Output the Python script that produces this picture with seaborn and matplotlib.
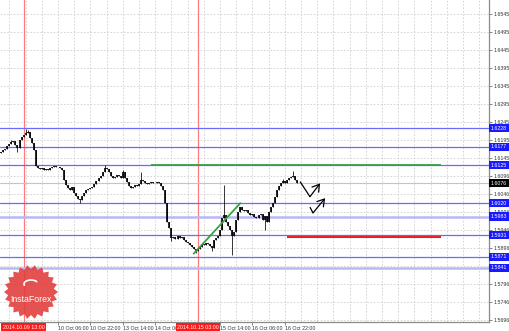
import numpy as np
import pandas as pd
import matplotlib
matplotlib.use("Agg")
import matplotlib.pyplot as plt
import seaborn as sns
from matplotlib.patches import Polygon
from matplotlib.transforms import blended_transform_factory

# ---------------- data (H1 bars, index 0 = 2014.10.09 02:00) ----------------
open0 = 1.6158
close = [
    1.6162, 1.6168, 1.6170, 1.6178, 1.6184, 1.6190, 1.6192, 1.6181, 1.6173, 1.6195,
    1.6204, 1.6209, 1.6215, 1.6218, 1.6201, 1.6187, 1.6168, 1.6123, 1.6118, 1.6115,
    1.6118, 1.6112, 1.6115, 1.6112, 1.6118, 1.6120, 1.6123, 1.6120, 1.6120, 1.6118,
    1.6112, 1.6084, 1.6070, 1.6062, 1.6057, 1.6065, 1.6048, 1.6040, 1.6032, 1.6029,
    1.6040, 1.6048, 1.6057, 1.6059, 1.6062, 1.6065, 1.6073, 1.6081, 1.6090, 1.6096,
    1.6107, 1.6118, 1.6115, 1.6107, 1.6096, 1.6090, 1.6093, 1.6098, 1.6096, 1.6090,
    1.6107, 1.6090, 1.6079, 1.6068, 1.6062, 1.6065, 1.6070, 1.6068, 1.6073, 1.6084,
    1.6081, 1.6076, 1.6073, 1.6076, 1.6079, 1.6076, 1.6076, 1.6079, 1.6076, 1.6068,
    1.6057, 1.6021, 1.5968, 1.5951, 1.5923, 1.5926, 1.5921, 1.5929, 1.5923, 1.5926,
    1.5918, 1.5912, 1.5910, 1.5904, 1.5899, 1.5893, 1.5887, 1.5893, 1.5899, 1.5907,
    1.5904, 1.5910, 1.5907, 1.5901, 1.5896, 1.5918, 1.5923, 1.5929, 1.5946, 1.5979,
    1.5987, 1.5968, 1.5957, 1.5946, 1.5929, 1.5940, 1.5973, 1.5996, 1.6010, 1.6001,
    1.5998, 1.6001, 1.5993, 1.5987, 1.5990, 1.5982, 1.5979, 1.5987, 1.5990, 1.5973,
    1.5984, 1.5968, 1.5996, 1.6010, 1.6021, 1.6037, 1.6057, 1.6068, 1.6076, 1.6081,
    1.6076, 1.6084, 1.6090, 1.6093, 1.6096, 1.6084, 1.6076,
]
high_wicks = {5: 1.6195, 12: 1.6226, 13: 1.6223, 51: 1.6126, 60: 1.6112,
              69: 1.6107, 110: 1.6070, 144: 1.6109, 139: 1.6087}
low_wicks = {8: 1.6162, 39: 1.6021, 96: 1.5882, 104: 1.5887, 114: 1.5876,
             130: 1.5946, 84: 1.5915}

price_ticks = [1.6545, 1.6495, 1.6445, 1.6395, 1.6345, 1.6295, 1.6245, 1.6195,
               1.6145, 1.6096, 1.6046, 1.5996, 1.5946, 1.5896, 1.5846, 1.5796,
               1.5746, 1.5696]
time_ticks = [28, 44, 60, 76, 108, 124, 140]
time_labels = ["10 Oct 06:00", "10 Oct 22:00", "13 Oct 14:00", "14 Oct 06:00",
               "15 Oct 14:00", "16 Oct 06:00", "16 Oct 22:00"]
marker_bars = [11, 97]
marker_labels = ["2014.10.09 13:00", "2014.10.15 03:00"]

levels_blue = [1.6228, 1.6177, 1.6125, 1.6020, 1.5931, 1.5871]
levels_light = [1.5983, 1.5841]
current_price = 1.6076
green_level = [74, 217, 1.6126]
red_level = [141, 217, 1.5925]
trend_x = [95, 118]
trend_y = [1.5880, 1.6020]
arrow1_x = [147.5, 152.4, 157.4]
arrow1_y = [1.6080, 1.6038, 1.6075]
arrow2_x = [152.4, 153.9, 159.9]
arrow2_y = [1.6009, 1.5993, 1.6034]

# ---------------- figure ----------------
sns.set_theme(style="white")
plt.rcParams['font.family'] = ['Liberation Sans', 'DejaVu Sans']
W, H = 510, 331
fig = plt.figure(figsize=(W / 100, H / 100), dpi=100)
fig.patch.set_facecolor("white")
ax = fig.add_axes([0, (H - 322) / H, 489 / W, 322 / H])
ax.set_facecolor("white")

n = len(close)
idx = np.arange(n)
opens = [open0] + close[:-1]
highs = [max(o, c) for o, c in zip(opens, close)]
lows = [min(o, c) for o, c in zip(opens, close)]
for k, v in high_wicks.items():
    highs[k] = max(highs[k], v)
for k, v in low_wicks.items():
    lows[k] = min(lows[k], v)
df = pd.DataFrame({"bar": idx, "open": opens, "high": highs, "low": lows, "close": close})

ax.set_xlim(-0.64, 240.8)
ax.set_ylim(1.56903, 1.65839)

# grid
for g in range(4, 241, 8):
    ax.axvline(g, color="#cfcfcf", lw=0.6, ls=(0, (2, 2)), zorder=0)
for p in price_ticks:
    ax.axhline(p, color="#cfcfcf", lw=0.6, ls=(0, (2, 2)), zorder=0)

# vertical marker lines
for b in marker_bars:
    ax.axvline(b, color="#ff7a7a", lw=0.9, zorder=1)

# levels
for lv in levels_blue:
    ax.axhline(lv, color="#6a6aff", lw=0.9, zorder=1)
for lv in levels_light:
    ax.axhline(lv, color="#b8b8f4", lw=1.8, zorder=1)
ax.axhline(current_price, color="#c4c4c4", lw=0.8, zorder=1)
ax.hlines(green_level[2], green_level[0], green_level[1], color="#3aa040", lw=1.3, zorder=2)
ax.hlines(red_level[2], red_level[0], red_level[1], color="#e8202a", lw=1.5, zorder=2)

# candles
ax.vlines(df["bar"], df["low"], df["high"], color="black", lw=0.55, zorder=3)
ax.vlines(df["bar"], df[["open", "close"]].min(axis=1), df[["open", "close"]].max(axis=1),
          color="black", lw=1.2, zorder=3)

# trend line
sns.lineplot(x=trend_x, y=trend_y, ax=ax, color="#3aa040", lw=1.3, zorder=4)

# forecast arrows
for xs, ys in [(arrow1_x, arrow1_y), (arrow2_x, arrow2_y)]:
    ax.plot(xs[:2], ys[:2], color="black", lw=0.9, zorder=5, solid_capstyle="butt")
    ax.annotate("", xy=(xs[2], ys[2]), xytext=(xs[1], ys[1]),
                arrowprops=dict(arrowstyle="->,head_length=0.4,head_width=0.25",
                                color="black", lw=0.9, shrinkA=0, shrinkB=0), zorder=5)

# axes styling
for s in ["left", "top"]:
    ax.spines[s].set_visible(False)
for s in ["right", "bottom"]:
    ax.spines[s].set_color("#8a8a8a")
    ax.spines[s].set_linewidth(0.9)
ax.yaxis.tick_right()
ax.set_yticks(price_ticks)
ax.set_yticklabels([f"{p:.4f}" for p in price_ticks])
ax.tick_params(axis="y", right=True, length=2, width=0.5, color="#555555", pad=1,
               labelsize=3.8, labelcolor="#333333")
ax.set_xticks(time_ticks)
ax.set_xticklabels(time_labels, ha="left")
ax.tick_params(axis="x", bottom=True, length=2, width=0.5, color="#555555", pad=1,
               labelsize=3.8, labelcolor="#333333")
ax.set_xlabel("")
ax.set_ylabel("")
if ax.get_legend():
    ax.get_legend().remove()

# price boxes on the right
tr = blended_transform_factory(ax.transAxes, ax.transData)
for lv in sorted(levels_blue + levels_light):
    ax.text(1.004, lv, f"{lv:.4f}", transform=tr, fontsize=3.8, color="white",
            va="center", ha="left", clip_on=False, zorder=10,
            bbox=dict(boxstyle="square,pad=0.3", fc="#1a1aff", ec="none"))
ax.text(1.004, current_price, f"{current_price:.4f}", transform=tr, fontsize=3.8,
        color="white", va="center", ha="left", clip_on=False, zorder=10,
        bbox=dict(boxstyle="square,pad=0.3", fc="black", ec="none"))

# time boxes at the bottom
trx = blended_transform_factory(ax.transData, ax.transAxes)
for b, lab in zip(marker_bars, marker_labels):
    ax.text(b, -0.016, lab, transform=trx, fontsize=3.8, color="white", va="center",
            ha="center", clip_on=False, zorder=10,
            bbox=dict(boxstyle="square,pad=0.25", fc="#ff1a1a", ec="none"))

# InstaForex logo
cx, cy, ro, ri, nsp = 31, 292, 27, 23, 22
ang = np.linspace(0, 2 * np.pi, 2 * nsp, endpoint=False)
rad = np.where(np.arange(2 * nsp) % 2 == 0, ro, ri)
px = cx + rad * np.cos(ang)
py = cy + rad * np.sin(ang)
star = Polygon(np.column_stack([px / W, 1 - py / H]), closed=True,
               transform=fig.transFigure, fc="#e23a3a", ec="none", alpha=0.88, zorder=20)
fig.add_artist(star)
fig.text(cx / W, 1 - 300 / H, "InstaForex", color="white", fontsize=6.3,
         ha="center", va="center", zorder=21)
arc_t = np.linspace(0.2 * np.pi, 1.1 * np.pi, 30)
fig.add_artist(plt.Line2D((cx + 7 * np.cos(arc_t)) / W, 1 - (284 - 4 * np.sin(arc_t)) / H,
                          transform=fig.transFigure, color="white", lw=1.2, zorder=21))

fig.savefig("out.png", dpi=100)
